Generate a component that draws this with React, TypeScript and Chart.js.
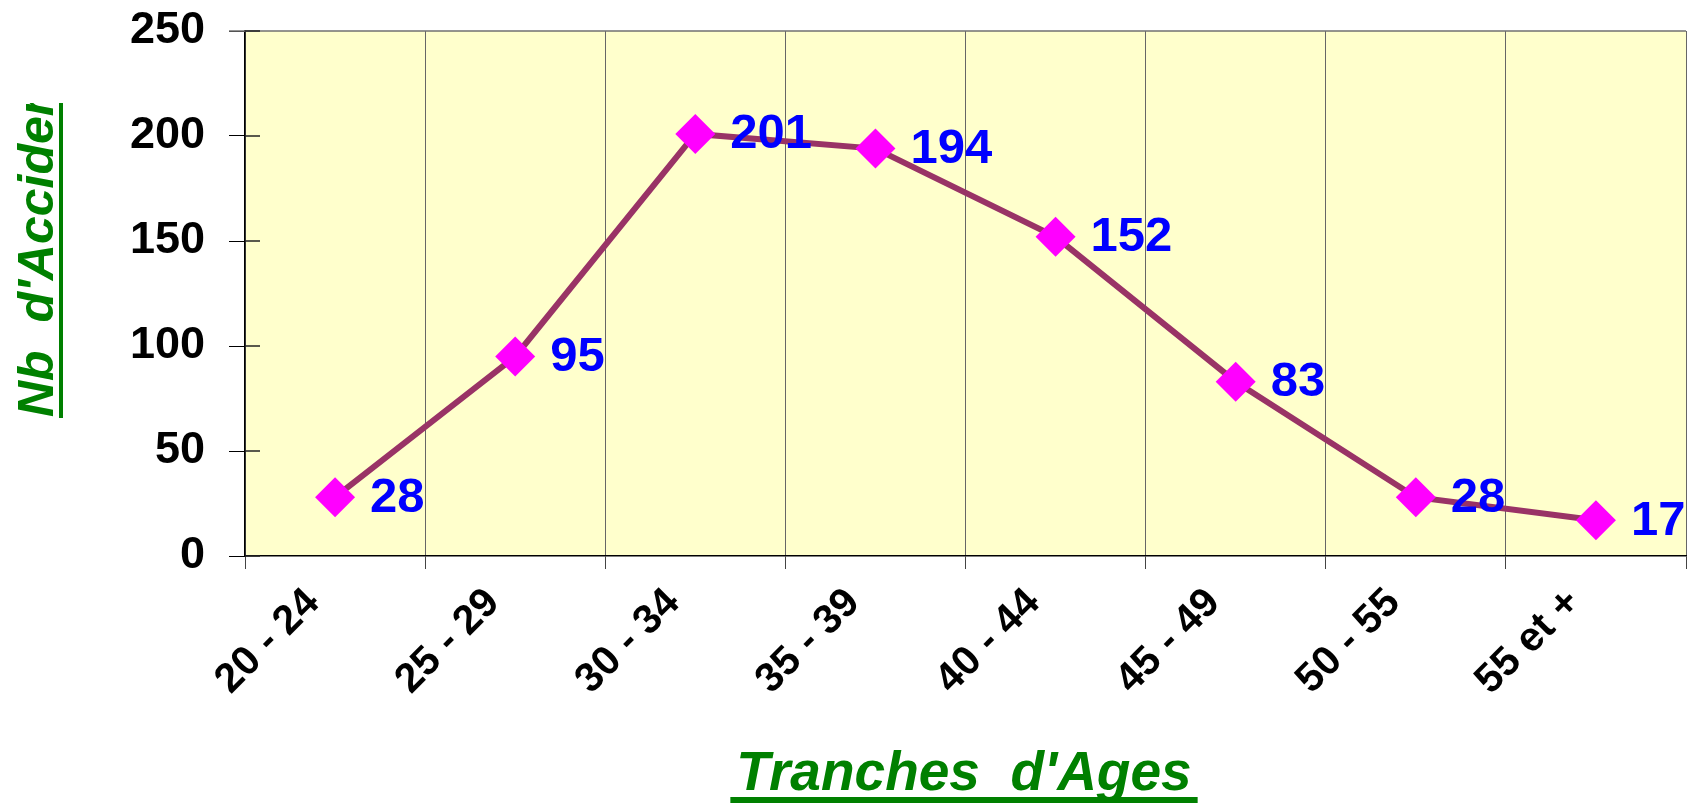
import React, { useEffect, useRef } from "react";
import { Chart, registerables } from "chart.js";

Chart.register(...registerables);

const categories = ["20 - 24", "25 - 29", "30 - 34", "35 - 39", "40 - 44", "45 - 49", "50 - 55", "55 et +"];
const accidents = [28, 95, 201, 194, 152, 83, 28, 17];
const yTicks = [0, 50, 100, 150, 200, 250];
const xTitle = "Tranches  d'Ages";
const yTitle = "Nb  d'Accidents";

const decorPlugin = {
  id: "decor",
  beforeDraw(chart: any) {
    const { ctx, chartArea: a } = chart;
    ctx.save();
    ctx.fillStyle = "#FFFFCC";
    ctx.fillRect(a.left, a.top, a.right - a.left, a.bottom - a.top);
    ctx.restore();
  },
  afterDraw(chart: any) {
    const { ctx, chartArea: a, scales } = chart;
    const y = scales.y;
    ctx.save();
    // top border
    ctx.strokeStyle = "#707070";
    ctx.lineWidth = 1.5;
    ctx.beginPath();
    ctx.moveTo(a.left - 16, a.top);
    ctx.lineTo(a.right, a.top);
    ctx.stroke();
    // inner tick marks on y axis
    ctx.strokeStyle = "#222";
    ctx.lineWidth = 1.5;
    yTicks.forEach((v) => {
      const py = y.getPixelForValue(v);
      ctx.beginPath();
      ctx.moveTo(a.left, py);
      ctx.lineTo(a.left + 15, py);
      ctx.stroke();
    });
    // data labels
    const meta = chart.getDatasetMeta(0);
    ctx.font = "bold 49px 'Liberation Sans', Arial, sans-serif";
    ctx.fillStyle = "#0000FF";
    ctx.textAlign = "left";
    ctx.textBaseline = "middle";
    meta.data.forEach((pt: any, i: number) => {
      ctx.fillText(String(accidents[i]), pt.x + 35, pt.y + 1);
    });
    // x title
    ctx.fillStyle = "#008000";
    ctx.font = "italic bold 55px 'Liberation Sans', Arial, sans-serif";
    ctx.textAlign = "center";
    ctx.textBaseline = "alphabetic";
    const cx = 964;
    ctx.fillText(xTitle, cx, 790);
    const w = ctx.measureText(xTitle).width;
    ctx.fillRect(cx - w / 2 - 6, 797, w + 12, 6);
    // y title (clipped)
    ctx.save();
    ctx.beginPath();
    ctx.rect(0, 103, 120, 700);
    ctx.clip();
    ctx.translate(53, 417);
    ctx.rotate(-Math.PI / 2);
    ctx.font = "italic bold 50px 'Liberation Sans', Arial, sans-serif";
    ctx.textAlign = "left";
    ctx.textBaseline = "alphabetic";
    ctx.fillText(yTitle, 0, 0);
    const wy = ctx.measureText(yTitle).width;
    ctx.fillRect(-1, 6, wy + 10, 4);
    ctx.restore();
    ctx.restore();
  },
};

export default function App() {
  const ref = useRef<HTMLCanvasElement | null>(null);
  useEffect(() => {
    if (!ref.current) return;
    const chart = new Chart(ref.current, {
      type: "line",
      data: {
        labels: categories,
        datasets: [
          {
            data: accidents,
            borderColor: "#993366",
            borderWidth: 6,
            pointStyle: "rectRot",
            pointRadius: 20,
            pointHoverRadius: 20,
            pointBackgroundColor: "#FF00FF",
            pointBorderColor: "#FF00FF",
            pointBorderWidth: 0,
            tension: 0,
          },
        ],
      },
      options: {
        animation: false,
        responsive: true,
        maintainAspectRatio: false,
        layout: { autoPadding: false, padding: { top: 31, right: 2, left: 0, bottom: 0 } },
        plugins: { legend: { display: false }, tooltip: { enabled: false } },
        scales: {
          x: {
            offset: true,
            grid: { offset: true, color: "#666", lineWidth: 1, tickLength: 13, tickColor: "#444" },
            border: { color: "#000", width: 1.5 },
            ticks: {
              autoSkip: false,
              minRotation: 45,
              maxRotation: 45,
              padding: 10,
              labelOffset: -22,
              color: "#000",
              font: { family: "'Liberation Sans', Arial, sans-serif", size: 41, weight: "bold" },
            },
            afterFit: (s: any) => {
              s.height = 247;
              s.paddingLeft = 0;
              s.paddingRight = 0;
            },
          },
          y: {
            min: 0,
            max: 250,
            afterBuildTicks: (s: any) => {
              s.ticks = yTicks.map((v) => ({ value: v }));
            },
            grid: { drawOnChartArea: false, drawTicks: true, tickLength: 16, color: "#000" },
            border: { color: "#000", width: 1.5 },
            ticks: {
              padding: 24,
              color: "#000",
              font: { family: "'Liberation Sans', Arial, sans-serif", size: 45, weight: "bold" },
            },
            afterFit: (s: any) => {
              s.width = 245;
              s.paddingTop = 0;
              s.paddingBottom = 0;
            },
          },
        },
      },
      plugins: [decorPlugin],
    });
    return () => chart.destroy();
  }, []);
  return (
    <div style={{ position: "fixed", left: 0, top: 0, width: 1688, height: 803 }}>
      <canvas ref={ref} />
    </div>
  );
}
